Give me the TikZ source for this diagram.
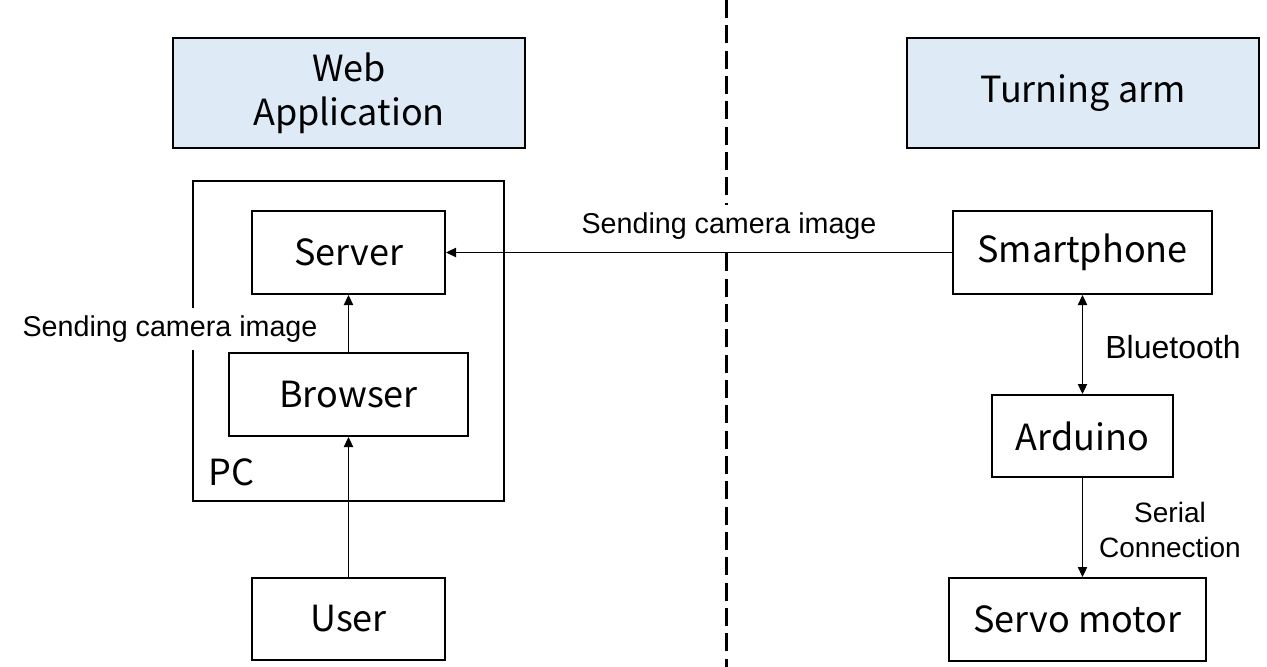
\documentclass[tikz,border=0pt]{standalone}
\usepackage{fontspec}
\setmainfont{Liberation Sans}
\newfontfamily\boxfont{Noto Sans CJK JP}
\usetikzlibrary{arrows.meta}
\definecolor{lightblue}{HTML}{DEEBF7}
\tikzset{
  box/.style={draw, line width=1.5pt, inner sep=0pt, font=\boxfont\fontsize{27}{33}\selectfont, align=center},
  hdr/.style={box, fill=lightblue},
  conn/.style={line width=0.75pt, -{Triangle[length=7.5pt,width=7pt]}},
  biconn/.style={line width=0.75pt, {Triangle[length=7.5pt,width=7pt]}-{Triangle[length=7.5pt,width=7pt]}},
  lbl/.style={font=\fontsize{21.5}{26}\selectfont, fill=white, inner sep=6pt, align=center},
  divider/.style={line width=2.25pt, dash pattern=on 13.5pt off 5.5pt}
}
\begin{document}
\begin{tikzpicture}[x=0.75pt,y=-0.75pt]
\useasboundingbox (0,0) rectangle (1267,667);
% divider
\coordinate (dtop) at (726,0);
\coordinate (dbot) at (726,667);
\draw[divider] (dtop) -- (dbot);
% headers
\node[hdr, minimum width=264pt, minimum height=82.5pt] (web) at (349,93) {Web\\Application};
\node[hdr, minimum width=264pt, minimum height=82.5pt] (arm) at (1083,93) {Turning arm};
% PC
\node[box, minimum width=233.25pt, minimum height=240pt] (pc) at (348.5,341) {};
\node[font=\boxfont\fontsize{27}{33}\selectfont, inner sep=0pt, anchor=west] (pclbl) at (208,472) {PC};
\node[box, minimum width=144.75pt, minimum height=62.25pt] (server) at (348.5,252.5) {Server};
\node[box, minimum width=179.25pt, minimum height=62.25pt] (browser) at (348.5,394.5) {Browser};
\node[box, minimum width=144.75pt, minimum height=61.5pt] (user) at (348.5,619) {User};
% right side
\node[box, minimum width=194.25pt, minimum height=62.25pt] (phone) at (1082.5,252.5) {Smartphone};
\node[box, minimum width=135.75pt, minimum height=61.5pt] (ard) at (1082.5,436) {Arduino};
\node[box, minimum width=192.75pt, minimum height=62.25pt] (servo) at (1077.5,619.5) {Servo motor};
% connectors
\node[lbl] (lbltop) at (729,226) {Sending camera image};
\draw[conn] (phone.west) -- (server.east);
\node[lbl] (lblleft) at (170,329) {Sending camera image};
\draw[conn] (browser.north) -- (server.south);
\draw[conn] (user.north) -- (browser.south);
\draw[biconn] (phone.south) -- (ard.north);
\draw[conn] (ard.south) -- (ard.south |- servo.north);
\node[font=\fontsize{24}{29}\selectfont, inner sep=0pt] (bt) at (1173,347) {Bluetooth};
\node[font=\fontsize{21}{26}\selectfont, inner sep=0pt, align=center] (serial) at (1170,530) {Serial\\Connection};
\end{tikzpicture}
\end{document}
